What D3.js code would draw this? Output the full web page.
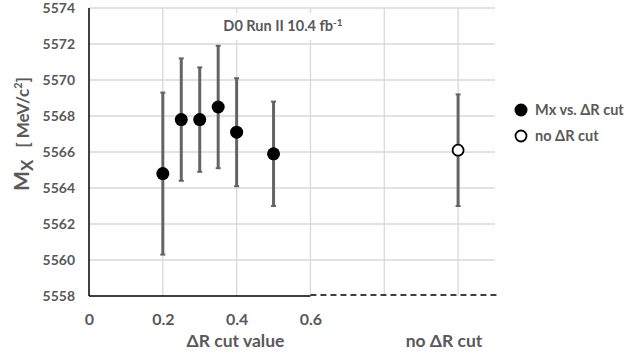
<!DOCTYPE html>
<html>
<head>
<meta charset="utf-8">
<script src="https://cdn.jsdelivr.net/npm/d3@7"></script>
<style>
  body { margin: 0; background: #fff; }
  text { font-family: Lato, "Open Sans", sans-serif; font-weight: bold; fill: #595959; }
</style>
</head>
<body>
<svg id="chart" width="630" height="356"></svg>
<script>
// points with Delta R cut
var cutValues = [0.2, 0.25, 0.3, 0.35, 0.4, 0.5];
var massValues = [5564.8, 5567.8, 5567.8, 5568.5, 5567.1, 5565.9];
var errLow = [4.5, 3.4, 2.9, 3.4, 3.0, 2.9];
var errHigh = [4.5, 3.4, 2.9, 3.4, 3.0, 2.9];

// no Delta R cut point (drawn at x = 1.0)
var noCutX = [1.0];
var noCutMass = [5566.1];
var noCutErr = [3.1];

var xTicks = [0, 0.2, 0.4, 0.6];
var xGrid = [0.2, 0.4, 0.6, 0.8, 1.0];
var yTicks = [5558, 5560, 5562, 5564, 5566, 5568, 5570, 5572, 5574];

var svg = d3.select("#chart"),
  margin = { top: 8, right: 135, bottom: 60, left: 89 },
  width = svg.attr("width") - margin.left - margin.right,
  height = svg.attr("height") - margin.top - margin.bottom,
  g = svg.append("g").attr("transform", "translate(" + margin.left + "," + margin.top + ")");

var x = d3.scaleLinear().domain([0, 1.1]).range([0, width]),
  y = d3.scaleLinear().domain([5558, 5574]).range([height, 0]);

// grid
g.selectAll(".hgrid")
  .data(yTicks.slice(1))
  .enter().append("line")
  .attr("x1", 0).attr("x2", width)
  .attr("y1", function(d) { return y(d) }).attr("y2", function(d) { return y(d) })
  .attr("stroke", "#d9d9d9").attr("stroke-width", 1.3);

g.selectAll(".vgrid")
  .data(xGrid)
  .enter().append("line")
  .attr("x1", function(d) { return x(d) }).attr("x2", function(d) { return x(d) })
  .attr("y1", 0).attr("y2", height)
  .attr("stroke", "#d9d9d9").attr("stroke-width", 1.3);

// axes
g.append("line")
  .attr("x1", 0).attr("x2", 0).attr("y1", 0).attr("y2", height)
  .attr("stroke", "#000").attr("stroke-width", 1.5);
g.append("line")
  .attr("x1", 0).attr("x2", x(0.6)).attr("y1", height).attr("y2", height)
  .attr("stroke", "#000").attr("stroke-width", 1.5);
g.append("line")
  .attr("x1", x(0.6)).attr("x2", width + 2).attr("y1", height - 1).attr("y2", height - 1)
  .attr("stroke", "#000").attr("stroke-width", 1.3)
  .attr("stroke-dasharray", "6,4");

var yAxis = d3.axisLeft(y).tickValues(yTicks).tickSize(0).tickPadding(14)
  .tickFormat(d3.format("d"));
g.append("g").call(yAxis)
  .call(function(a) { a.select(".domain").remove() })
  .selectAll("text")
  .style("font-size", "14px");

var xAxis = d3.axisBottom(x).tickValues(xTicks).tickSize(0).tickPadding(18)
  .tickFormat(d3.format("~g"));
g.append("g").attr("transform", "translate(0," + height + ")").call(xAxis)
  .call(function(a) { a.select(".domain").remove() })
  .selectAll("text")
  .style("font-size", "16px");

// axis titles
g.append("text")
  .attr("x", 235.5 - margin.left).attr("y", height + 51)
  .attr("text-anchor", "middle")
  .style("font-size", "17.5px")
  .text("\u0394R cut value");
g.append("text")
  .attr("x", 444 - margin.left).attr("y", height + 51)
  .attr("text-anchor", "middle")
  .style("font-size", "17.5px")
  .text("no \u0394R cut");

var yl = svg.append("text")
  .attr("transform", "translate(29,134) rotate(-90)")
  .attr("text-anchor", "middle");
yl.append("tspan").style("font-size", "21px").text("M");
yl.append("tspan").style("font-size", "17px").attr("dy", 4).text("X");
yl.append("tspan").style("font-size", "17px").attr("dy", -4).attr("dx", 12).text("[ MeV/c");
yl.append("tspan").style("font-size", "11px").attr("dy", -7).text("2");
yl.append("tspan").style("font-size", "17px").attr("dy", 7).text("]");

// title with white box
g.append("rect")
  .attr("x", x(0.34)).attr("y", 5).attr("width", 138).attr("height", 27)
  .attr("fill", "#fff");
var t = g.append("text")
  .attr("x", 283 - margin.left).attr("y", 23)
  .attr("text-anchor", "middle")
  .style("font-size", "14.5px");
t.append("tspan").text("D0 Run II 10.4 fb");
t.append("tspan").style("font-size", "10px").attr("dy", -5).text("-1");

// error bars
function errorBars(xs, ms, lo, hi) {
  var eb = g.append("g").selectAll("g")
    .data(xs.map(function(d, i) { return { x: d, m: ms[i], lo: lo[i], hi: hi[i] } }))
    .enter().append("g");
  eb.append("line")
    .attr("x1", function(d) { return x(d.x) }).attr("x2", function(d) { return x(d.x) })
    .attr("y1", function(d) { return y(d.m - d.lo) }).attr("y2", function(d) { return y(d.m + d.hi) })
    .attr("stroke", "#646464").attr("stroke-width", 3);
  eb.append("line")
    .attr("x1", function(d) { return x(d.x) - 2.5 }).attr("x2", function(d) { return x(d.x) + 2.5 })
    .attr("y1", function(d) { return y(d.m - d.lo) }).attr("y2", function(d) { return y(d.m - d.lo) })
    .attr("stroke", "#646464").attr("stroke-width", 2);
  eb.append("line")
    .attr("x1", function(d) { return x(d.x) - 2.5 }).attr("x2", function(d) { return x(d.x) + 2.5 })
    .attr("y1", function(d) { return y(d.m + d.hi) }).attr("y2", function(d) { return y(d.m + d.hi) })
    .attr("stroke", "#646464").attr("stroke-width", 2);
}
errorBars(cutValues, massValues, errLow, errHigh);
errorBars(noCutX, noCutMass, noCutErr, noCutErr);

g.selectAll(".dot")
  .data(cutValues)
  .enter().append("circle")
  .attr("r", 6.5)
  .attr("cx", function(d) { return x(d) })
  .attr("cy", function(d, i) { return y(massValues[i]) })
  .attr("fill", "#000");

g.selectAll(".open")
  .data(noCutX)
  .enter().append("circle")
  .attr("r", 5.5)
  .attr("cx", function(d) { return x(d) })
  .attr("cy", function(d, i) { return y(noCutMass[i]) })
  .attr("fill", "#fff").attr("stroke", "#000").attr("stroke-width", 1.8);

// legend
var legend = svg.append("g").attr("transform", "translate(521,110)");
legend.append("circle").attr("r", 6.5).attr("fill", "#000");
legend.append("text").attr("x", 14).attr("y", 5).style("font-size", "14.5px").text("Mx vs. \u0394R cut");
legend.append("circle").attr("cy", 26).attr("r", 5.5)
  .attr("fill", "#fff").attr("stroke", "#000").attr("stroke-width", 1.8);
legend.append("text").attr("x", 14).attr("y", 31).style("font-size", "14.5px").text("no \u0394R cut");
</script>
</body>
</html>
